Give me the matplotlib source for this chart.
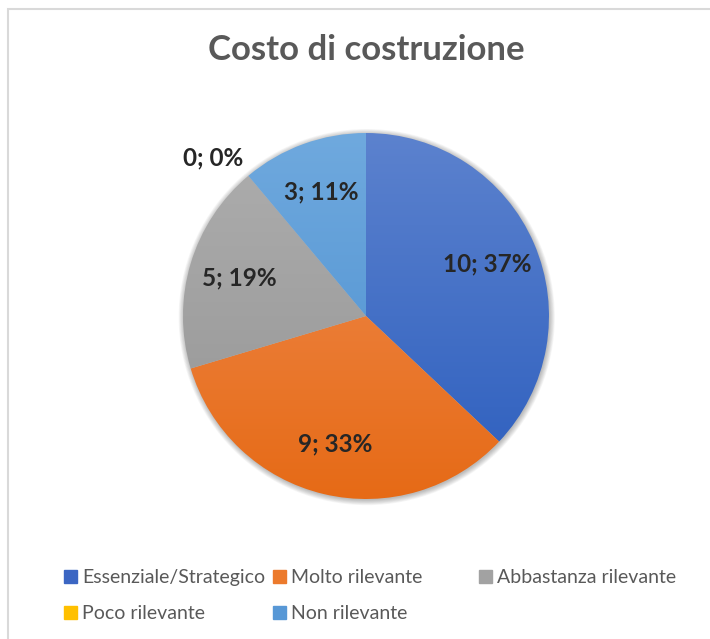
import numpy as np
import matplotlib.pyplot as plt
from matplotlib.patches import Rectangle, Circle
from matplotlib.colors import LinearSegmentedColormap

plt.rcParams['font.family'] = ['Lato', 'DejaVu Sans']

categories = ['Essenziale/Strategico', 'Molto rilevante', 'Abbastanza rilevante',
              'Poco rilevante', 'Non rilevante']
counts = [10, 9, 5, 0, 3]
# top / bottom shade of each slice's gradient fill
top_colors = ['#5C82CE', '#F08F55', '#AEAEAE', '#FFCA2E', '#6FA9DE']
bottom_colors = ['#2C5EBE', '#E66A16', '#949494', '#F0B400', '#4A8ECF']
legend_colors = ['#3B66C3', '#EC7A2C', '#A2A2A2', '#FFC000', '#5898D6']

total = sum(counts)

fig = plt.figure(figsize=(7.10, 6.39), dpi=100)

# chart area border
fig.patches.append(Rectangle((8 / 710, -0.1), 1.2, 1 - 9 / 639 + 0.1,
                             transform=fig.transFigure, fill=False,
                             edgecolor='#D9D9D9', linewidth=1.5))

cx, cy, r = 366, 316, 183
ax = fig.add_axes([(cx - r) / 710, (639 - cy - r) / 639, 2 * r / 710, 2 * r / 639])

wedges, _ = ax.pie(counts, startangle=90, counterclock=False, radius=1,
                   wedgeprops=dict(linewidth=0))

# soft shadow around the pie
for i in range(8):
    ax.add_patch(Circle((0.004, -0.006), 1.0 + 0.004 * i, facecolor='black',
                        alpha=0.035, edgecolor='none', zorder=0, clip_on=False))

grad = np.linspace(0, 1, 256).reshape(-1, 1)
for w, c0, c1 in zip(wedges, top_colors, bottom_colors):
    cmap = LinearSegmentedColormap.from_list('g', [c0, c1])
    w.set_facecolor('none')
    im = ax.imshow(grad, cmap=cmap, extent=[-1, 1, -1, 1], origin='upper',
                   aspect='auto', zorder=1)
    im.set_clip_path(w)

for w, v in zip(wedges, counts):
    mid = np.deg2rad((w.theta1 + w.theta2) / 2)
    if v == 0:
        mid += np.deg2rad(4)
        dist = 1.2
    else:
        dist = 0.72
    pct = round(100 * v / total)
    ax.text(dist * np.cos(mid), dist * np.sin(mid), f'{v}; {pct}%',
            ha='center', va='center', fontsize=17.5, fontweight='bold',
            color='#262626', zorder=3)

ax.set_xlim(-1, 1)
ax.set_ylim(-1, 1)
ax.set_aspect('equal')
ax.axis('off')

fig.text(366 / 710, 1 - 50 / 639, 'Costo di costruzione', ha='center', va='center',
         fontsize=25, fontweight='bold', color='#595959')

# legend laid out in three fixed-width columns
handles = [Rectangle((0, 0), 1, 1, color=c) for c in legend_colors]
columns = [[0, 3], [1, 4], [2]]
col_x = [64, 273, 479]
for idx, x in zip(columns, col_x):
    fig.legend([handles[i] for i in idx], [categories[i] for i in idx],
               loc='upper left', bbox_to_anchor=(x / 710, 1 - 569 / 639),
               frameon=False, fontsize=14, labelcolor='#595959',
               handlelength=0.65, handleheight=0.65, handletextpad=0.3,
               labelspacing=1.0, borderpad=0, borderaxespad=0)

fig.savefig('out.png', dpi=100)
